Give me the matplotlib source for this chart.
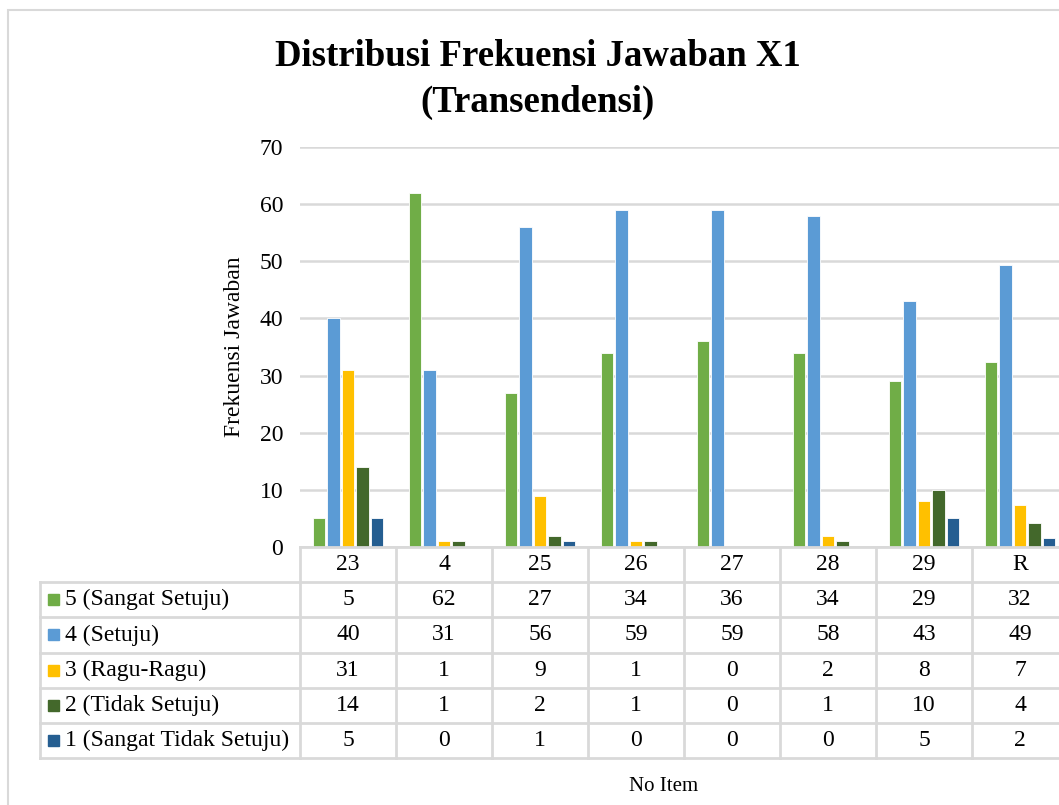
import matplotlib
matplotlib.use("Agg")
import matplotlib.pyplot as plt
from matplotlib.patches import Rectangle
from matplotlib.lines import Line2D

categories = ["23", "4", "25", "26", "27", "28", "29", "R"]
series_names = ["5 (Sangat Setuju)", "4 (Setuju)", "3 (Ragu-Ragu)",
                "2 (Tidak Setuju)", "1 (Sangat Tidak Setuju)"]
sangat_setuju = [5, 62, 27, 34, 36, 34, 29, 32.43]
setuju = [40, 31, 56, 59, 59, 58, 43, 49.43]
ragu_ragu = [31, 1, 9, 1, 0, 2, 8, 7.43]
tidak_setuju = [14, 1, 2, 1, 0, 1, 10, 4.14]
sangat_tidak_setuju = [5, 0, 1, 0, 0, 0, 5, 1.57]
table_labels = [
    ["5", "62", "27", "34", "36", "34", "29", "32"],
    ["40", "31", "56", "59", "59", "58", "43", "49"],
    ["31", "1", "9", "1", "0", "2", "8", "7"],
    ["14", "1", "2", "1", "0", "1", "10", "4"],
    ["5", "0", "1", "0", "0", "0", "5", "2"],
]
y_ticks = [0, 10, 20, 30, 40, 50, 60, 70]

series = [sangat_setuju, setuju, ragu_ragu, tidak_setuju, sangat_tidak_setuju]
colors = ["#70AD47", "#5B9BD5", "#FFC000", "#43682B", "#255E91"]

W, H = 1059, 805
plt.rcParams['font.family'] = ['Liberation Serif', 'DejaVu Serif']
fig = plt.figure(figsize=(W / 100, H / 100), dpi=100)
fig.patch.set_facecolor("white")

def fx(px):
    return px / W

def fy(py):
    return 1 - py / H

grid_c = "#D9D9D9"

# outer border
fig.add_artist(Rectangle((fx(8), fy(830)), fx(1100), fy(10) - fy(830),
                         transform=fig.transFigure, fill=False,
                         edgecolor=grid_c, linewidth=1.5))

x_left, x_right = 300, 1068
y_top, y_base = 147, 547
ax = fig.add_axes([fx(x_left), fy(y_base), fx(x_right - x_left), fy(y_top) - fy(y_base)])
ax.set_xlim(-0.5, len(categories) - 0.5)
ax.set_ylim(0, 70)
for s in ax.spines.values():
    s.set_visible(False)
ax.set_yticks(y_ticks)
ax.set_yticklabels([str(t) for t in y_ticks], fontsize=17)
ax.tick_params(axis="y", length=0, pad=12)
ax.set_xticks([])
ax.yaxis.grid(True, color=grid_c, linewidth=1.8)
ax.set_axisbelow(True)

step = 0.151
bw = 0.128
n = len(series)
for i, (vals, c) in enumerate(zip(series, colors)):
    xs = [k + (i - (n - 1) / 2) * step for k in range(len(categories))]
    ax.bar(xs, vals, width=bw, color=c, edgecolor="white", linewidth=0.6, zorder=3)

ax.set_ylabel("Frekuensi Jawaban", fontsize=17)
ax.yaxis.set_label_coords(-(300 - 245) / (x_right - x_left), 0.5)

# title
fig.text(fx(538), fy(57), "Distribusi Frekuensi Jawaban X1", ha="center", va="center",
         fontsize=26.5, fontweight="bold")
fig.text(fx(538), fy(102), "(Transendensi)", ha="center", va="center",
         fontsize=26.5, fontweight="bold")

# data table
t_top, t_bot = 547, 758
tax = fig.add_axes([fx(x_left), fy(t_bot), fx(x_right - x_left), fy(t_top) - fy(t_bot)])
tax.set_xlim(-0.5, len(categories) - 0.5)
nrows = len(series) + 1
tax.set_ylim(nrows, 0)
tax.axis("off")
cell_w_px = (x_right - x_left) / len(categories)
row_h_px = (t_bot - t_top) / nrows
left_data = -0.5 - (300 - 40) / cell_w_px
lw = 2.0
for r in range(1, nrows + 1):
    tax.add_line(Line2D([left_data, len(categories) - 0.5], [r, r], color=grid_c,
                        linewidth=lw, clip_on=False))
tax.add_line(Line2D([-0.5, len(categories) - 0.5], [0, 0], color=grid_c,
                    linewidth=lw, clip_on=False))
for k in range(len(categories) + 1):
    tax.add_line(Line2D([k - 0.5, k - 0.5], [0, nrows], color=grid_c,
                        linewidth=lw, clip_on=False))
tax.add_line(Line2D([left_data, left_data], [1, nrows], color=grid_c,
                    linewidth=lw, clip_on=False))
for k, cat in enumerate(categories):
    tax.text(k, 0.5, cat, ha="center", va="center", fontsize=17)
for r, (name, c, labels) in enumerate(zip(series_names, colors, table_labels)):
    yy = r + 1.5
    sq_x = -0.5 - (300 - 48) / cell_w_px
    sq_w = 11 / cell_w_px
    sq_h = 11 / row_h_px
    tax.add_patch(Rectangle((sq_x, yy - sq_h / 2), sq_w, sq_h, color=c, clip_on=False))
    tax.text(-0.5 - (300 - 65) / cell_w_px, yy, name, ha="left", va="center", fontsize=17)
    for k, lab in enumerate(labels):
        tax.text(k, yy, lab, ha="center", va="center", fontsize=17)

fig.text(fx(664), fy(786), "No Item", ha="center", va="center", fontsize=15)

fig.savefig("out.png", dpi=100, facecolor="white")
